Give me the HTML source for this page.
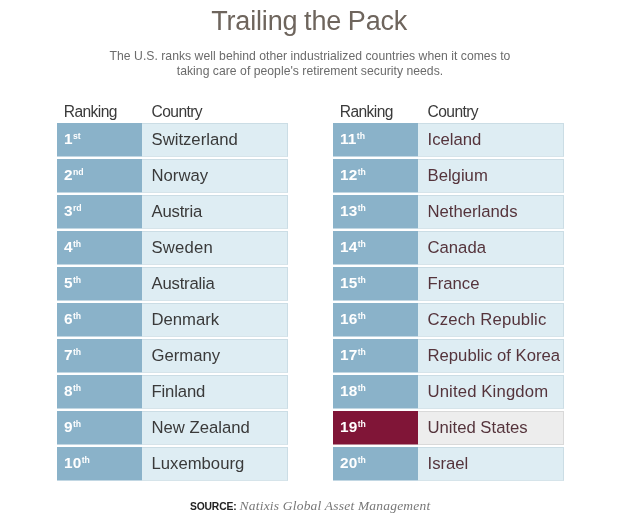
<!DOCTYPE html>
<html lang="en">
<head>
<meta charset="utf-8">
<title>Trailing the Pack</title>
<style>
html,body{margin:0;padding:0;}
body{width:620px;height:520px;background:#fff;position:relative;overflow:hidden;font-family:"Liberation Sans",sans-serif;}
h1{position:absolute;left:-0.8px;top:5px;width:620px;margin:0;text-align:center;font-weight:normal;font-size:27px;line-height:32px;color:#6e655d;letter-spacing:-0.17px;word-spacing:-0.6px;transform:translateY(0.3px);}
p.sub{position:absolute;left:0;top:49px;width:620px;margin:0;text-align:center;font-size:12.2px;line-height:14.6px;color:#6b6b6b;letter-spacing:0.025px;transform:translateY(-0.5px);}
.tbl{position:absolute;top:98px;width:231px;}
.tbl.l{left:57px;}
.tbl.r{left:333px;}
.hd{position:relative;height:25px;font-size:15.6px;color:#3a3a3a;letter-spacing:-0.6px;}
.hd span{position:absolute;top:4.5px;line-height:18px;}
.hd .h1{left:6.8px;}
.hd .h2{left:94.6px;}
.row{position:relative;height:34px;margin-bottom:2px;}
.rk{position:absolute;left:0;top:0;width:85px;height:34px;background:#8ab2c9;border-bottom:1px solid #c2d7e3;color:#fff;font-weight:bold;font-size:15.4px;letter-spacing:0.1px;line-height:34px;box-sizing:border-box;padding-left:7px;}
.rk .n{display:inline-block;transform:translateY(-0.7px);}
.rk sup{font-size:8.7px;line-height:0;vertical-align:baseline;position:relative;top:-5.2px;margin-left:0.3px;letter-spacing:0;}
.ct{position:absolute;left:85px;top:0;width:146px;height:34px;background:#deedf3;border:1px solid #cbdde5;border-left:none;border-bottom-color:#d6e4ea;box-sizing:border-box;color:#3a3a3a;font-size:16.7px;line-height:32px;padding-left:9.5px;white-space:nowrap;}
.tbl.r .ct{color:#55343c;}
.row.us .rk{background:#801537;border-bottom-color:#bb8897;}
.row.us .ct{background:#ededed;border-color:#d9d9d9;}
.src{position:absolute;left:190px;top:497px;margin:0;white-space:nowrap;line-height:16px;transform:translateY(0.4px);}
.src b{font-size:10.3px;color:#222;letter-spacing:-0.15px;}
.src i{font-family:"Liberation Serif",serif;font-size:13.5px;color:#777;letter-spacing:0.2px;margin-left:-1.3px;}
</style>
</head>
<body>
<h1>Trailing the Pack</h1>
<p class="sub">The U.S. ranks well behind other industrialized countries when it comes to<br>taking care of people's retirement security needs.</p>

<div class="tbl l">
  <div class="hd"><span class="h1">Ranking</span><span class="h2">Country</span></div>
  <div class="row"><div class="rk"><span class="n">1<sup>st</sup></span></div><div class="ct">Switzerland</div></div>
  <div class="row"><div class="rk"><span class="n">2<sup>nd</sup></span></div><div class="ct">Norway</div></div>
  <div class="row"><div class="rk"><span class="n">3<sup>rd</sup></span></div><div class="ct" style="letter-spacing:-0.2px">Austria</div></div>
  <div class="row"><div class="rk"><span class="n">4<sup>th</sup></span></div><div class="ct" style="letter-spacing:0.18px">Sweden</div></div>
  <div class="row"><div class="rk"><span class="n">5<sup>th</sup></span></div><div class="ct" style="letter-spacing:-0.2px">Australia</div></div>
  <div class="row"><div class="rk"><span class="n">6<sup>th</sup></span></div><div class="ct">Denmark</div></div>
  <div class="row"><div class="rk"><span class="n">7<sup>th</sup></span></div><div class="ct">Germany</div></div>
  <div class="row"><div class="rk"><span class="n">8<sup>th</sup></span></div><div class="ct" style="letter-spacing:-0.15px">Finland</div></div>
  <div class="row"><div class="rk"><span class="n">9<sup>th</sup></span></div><div class="ct">New Zealand</div></div>
  <div class="row"><div class="rk"><span class="n">10<sup>th</sup></span></div><div class="ct">Luxembourg</div></div>
</div>

<div class="tbl r">
  <div class="hd"><span class="h1">Ranking</span><span class="h2">Country</span></div>
  <div class="row"><div class="rk"><span class="n">11<sup>th</sup></span></div><div class="ct">Iceland</div></div>
  <div class="row"><div class="rk"><span class="n">12<sup>th</sup></span></div><div class="ct">Belgium</div></div>
  <div class="row"><div class="rk"><span class="n">13<sup>th</sup></span></div><div class="ct">Netherlands</div></div>
  <div class="row"><div class="rk"><span class="n">14<sup>th</sup></span></div><div class="ct">Canada</div></div>
  <div class="row"><div class="rk"><span class="n">15<sup>th</sup></span></div><div class="ct">France</div></div>
  <div class="row"><div class="rk"><span class="n">16<sup>th</sup></span></div><div class="ct" style="letter-spacing:0.15px">Czech Republic</div></div>
  <div class="row"><div class="rk"><span class="n">17<sup>th</sup></span></div><div class="ct">Republic of Korea</div></div>
  <div class="row"><div class="rk"><span class="n">18<sup>th</sup></span></div><div class="ct" style="letter-spacing:0.14px">United Kingdom</div></div>
  <div class="row us"><div class="rk"><span class="n">19<sup>th</sup></span></div><div class="ct">United States</div></div>
  <div class="row"><div class="rk"><span class="n">20<sup>th</sup></span></div><div class="ct">Israel</div></div>
</div>

<p class="src"><b>SOURCE:</b> <i>Natixis Global Asset Management</i></p>
</body>
</html>
